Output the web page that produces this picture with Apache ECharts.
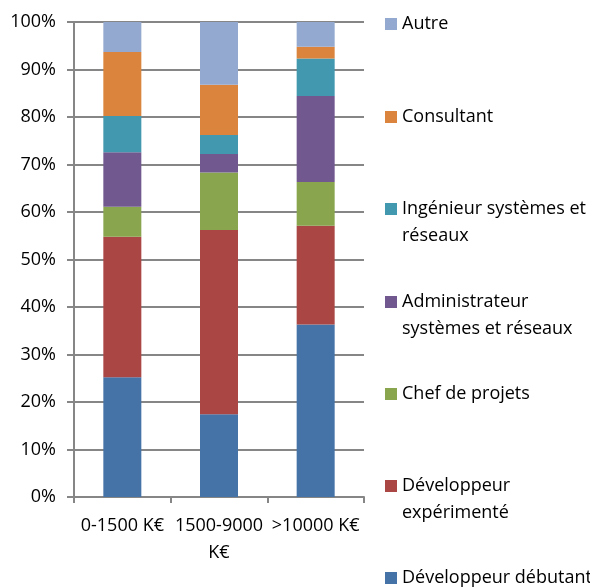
<!DOCTYPE html>
<html>
<head>
<meta charset="utf-8">
<script src="https://cdn.jsdelivr.net/npm/echarts@6/dist/echarts.min.js"></script>
<style>
    html, body { margin: 0; padding: 0; background: #fff; }
    #main { width: 590px; height: 587px; }
</style>
</head>
<body>
<div id="main"></div>
<script>
// catégories (axe x)
var categories = ['0-1500 K€', '1500-9000 K€', '>10000 K€'];

// séries, de bas en haut (en %)
var devDebutant = [25.2, 17.4, 36.3];
var devExperimente = [29.6, 38.8, 20.8];
var chefProjets = [6.3, 12.1, 9.2];
var adminSysteme = [11.5, 3.9, 18.1];
var ingenieurSysteme = [7.6, 4.0, 7.9];
var consultant = [13.5, 10.6, 2.5];
var autre = [6.3, 13.2, 5.2];

var yTicks = [0, 10, 20, 30, 40, 50, 60, 70, 80, 90, 100];

var seriesDef = [
    { name: 'Développeur débutant', data: devDebutant, color: '#4572A7' },
    { name: 'Développeur expérimenté', data: devExperimente, color: '#AA4643' },
    { name: 'Chef de projets', data: chefProjets, color: '#89A54E' },
    { name: 'Administrateur systèmes et réseaux', data: adminSysteme, color: '#71588F' },
    { name: 'Ingénieur systèmes et réseaux', data: ingenieurSysteme, color: '#4198AF' },
    { name: 'Consultant', data: consultant, color: '#DB843D' },
    { name: 'Autre', data: autre, color: '#93A9CF' }
];

// libellés de légende sur deux lignes (ligne vide en tête pour caler la 1re ligne sur le carré)
var legendText = {
    'Ingénieur systèmes et réseaux': '\nIngénieur systèmes et\nréseaux',
    'Administrateur systèmes et réseaux': '\nAdministrateur\nsystèmes et réseaux',
    'Développeur expérimenté': '\nDéveloppeur\nexpérimenté'
};

var font = '"Open Sans", "Liberation Sans", sans-serif';
var fontSize = 18;
var axisGrey = '#868686';

// une légende par entrée (ordre inverse, Autre en haut)
var legendTops = [23, 116, 208, 301, 393, 485, 577];
var legends = [];
seriesDef.slice().reverse().forEach(function (s, i) {
    var twoLines = !!legendText[s.name];
    legends.push({
        data: [s.name],
        left: 385,
        top: (twoLines ? legendTops[i] - 40.5 : legendTops[i] - 13.5) + 1,
        padding: 0,
        icon: 'rect',
        itemWidth: 12,
        itemHeight: 12,
        selectedMode: false,
        formatter: function (name) { return legendText[name] || name; },
        textStyle: {
            fontFamily: font,
            fontSize: fontSize,
            color: '#000',
            lineHeight: 27
        }
    });
});

var option = {
    animation: false,
    backgroundColor: '#fff',
    legend: legends,
    grid: {
        left: 74,
        right: 226,
        top: 22,
        bottom: 90
    },
    xAxis: {
        type: 'category',
        data: categories,
        axisLine: { show: true, lineStyle: { color: axisGrey, width: 2 } },
        axisTick: { show: true, length: 6, lineStyle: { color: axisGrey, width: 2 } },
        axisLabel: {
            interval: 0,
            margin: 15,
            lineHeight: 27,
            fontFamily: font,
            fontSize: fontSize,
            color: '#000',
            formatter: function (v) { return v.length > 10 ? v.replace(' ', '\n') : v; }
        }
    },
    yAxis: {
        type: 'value',
        min: yTicks[0],
        max: yTicks[yTicks.length - 1],
        interval: 10,
        axisLine: { show: true, lineStyle: { color: axisGrey, width: 2 } },
        axisTick: { show: true, length: 7, lineStyle: { color: axisGrey, width: 2 } },
        splitLine: { show: true, lineStyle: { color: axisGrey, width: 2 } },
        axisLabel: {
            margin: 18,
            fontFamily: font,
            fontSize: fontSize,
            color: '#000',
            formatter: '{value}%'
        }
    },
    series: seriesDef.map(function (s) {
        return {
            name: s.name,
            type: 'bar',
            stack: 'total',
            barWidth: 38,
            data: s.data,
            itemStyle: { color: s.color }
        };
    })
};

var myChart = echarts.init(document.getElementById('main'));
myChart.setOption(option);
</script>
</body>
</html>
